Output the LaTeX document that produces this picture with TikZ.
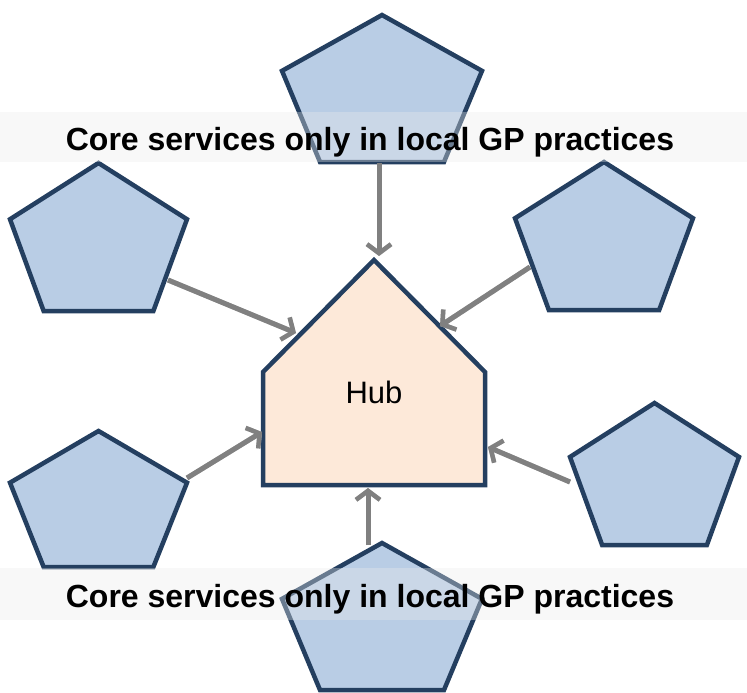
\documentclass[tikz,border=0pt]{standalone}
\usepackage{fontspec}
\setmainfont{Liberation Sans}
\usetikzlibrary{arrows.meta}
\definecolor{pentfill}{HTML}{B9CDE5}
\definecolor{pentline}{HTML}{243F60}
\definecolor{hubfill}{HTML}{FDE9D9}
\definecolor{arrgray}{HTML}{808080}
\definecolor{shadegray}{HTML}{C4C4C4}
% pentagon: centre x, top y, width, height
\newcommand\pentagon[4]{%
  \draw[pent] (#1,#2) -- ({#1+#3/2},{#2+0.38*#4}) -- ({#1+0.31*#3},{#2+#4})
    -- ({#1-0.31*#3},{#2+#4}) -- ({#1-#3/2},{#2+0.38*#4}) -- cycle;}
\begin{document}
\begin{tikzpicture}[x=1pt,y=-1pt,
	pent/.style={fill=pentfill,draw=pentline,line width=4.5pt},
	arr/.style={draw=arrgray,line width=5pt,-{Straight Barb[length=9pt,width=24pt,line width=4.5pt]}},
	arrshade/.style={arr,draw=shadegray,shift={(2,3)}},
	band/.style={fill=white!92!black,opacity=.35},
	bigtext/.style={anchor=base,font=\bfseries\fontsize{32}{38}\selectfont}]
	\useasboundingbox (0,0) rectangle (747,693);
	% the six practices
	\pentagon{382}{15}{200}{147}
	\pentagon{98.5}{163}{177}{148}
	\pentagon{604}{162}{178}{148}
	\pentagon{98.5}{431}{177}{136}
	\pentagon{654.5}{403}{169}{142}
	\pentagon{382}{543}{200}{147}
	% hub
	\draw[fill=hubfill,draw=pentline,line width=4.5pt] (374,260) -- (485,372) -- (485,485)
	-- (263,485) -- (263,372) -- cycle;
	\node[anchor=base,font=\fontsize{31}{36}\selectfont] (hub) at (374,403) {Hub};
	% arrow ends
	\coordinate (t-out) at (379,163);   \coordinate (t-in) at (379,256);
	\coordinate (tl-out) at (168,280);  \coordinate (tl-in) at (296,333);
	\coordinate (tr-out) at (530,267);  \coordinate (tr-in) at (440,326);
	\coordinate (bl-out) at (187,478);  \coordinate (bl-in) at (262,432);
	\coordinate (br-out) at (570,482);  \coordinate (br-in) at (488,447);
	\coordinate (b-out) at (368,545);   \coordinate (b-in) at (368,488);
	\foreach \a in {t,tl,tr,bl,br,b}
	{\draw[arrshade] (\a-out) -- (\a-in);
	 \draw[arr] (\a-out) -- (\a-in);}
	% captions
	\fill[band] (0,112) rectangle (747,162);
	\fill[band] (0,568) rectangle (747,620);
	\node[bigtext] (toplabel) at (370,150) {Core services only in local GP practices};
	\node[bigtext] (botlabel) at (370,607) {Core services only in local GP practices};
\end{tikzpicture}
\end{document}
